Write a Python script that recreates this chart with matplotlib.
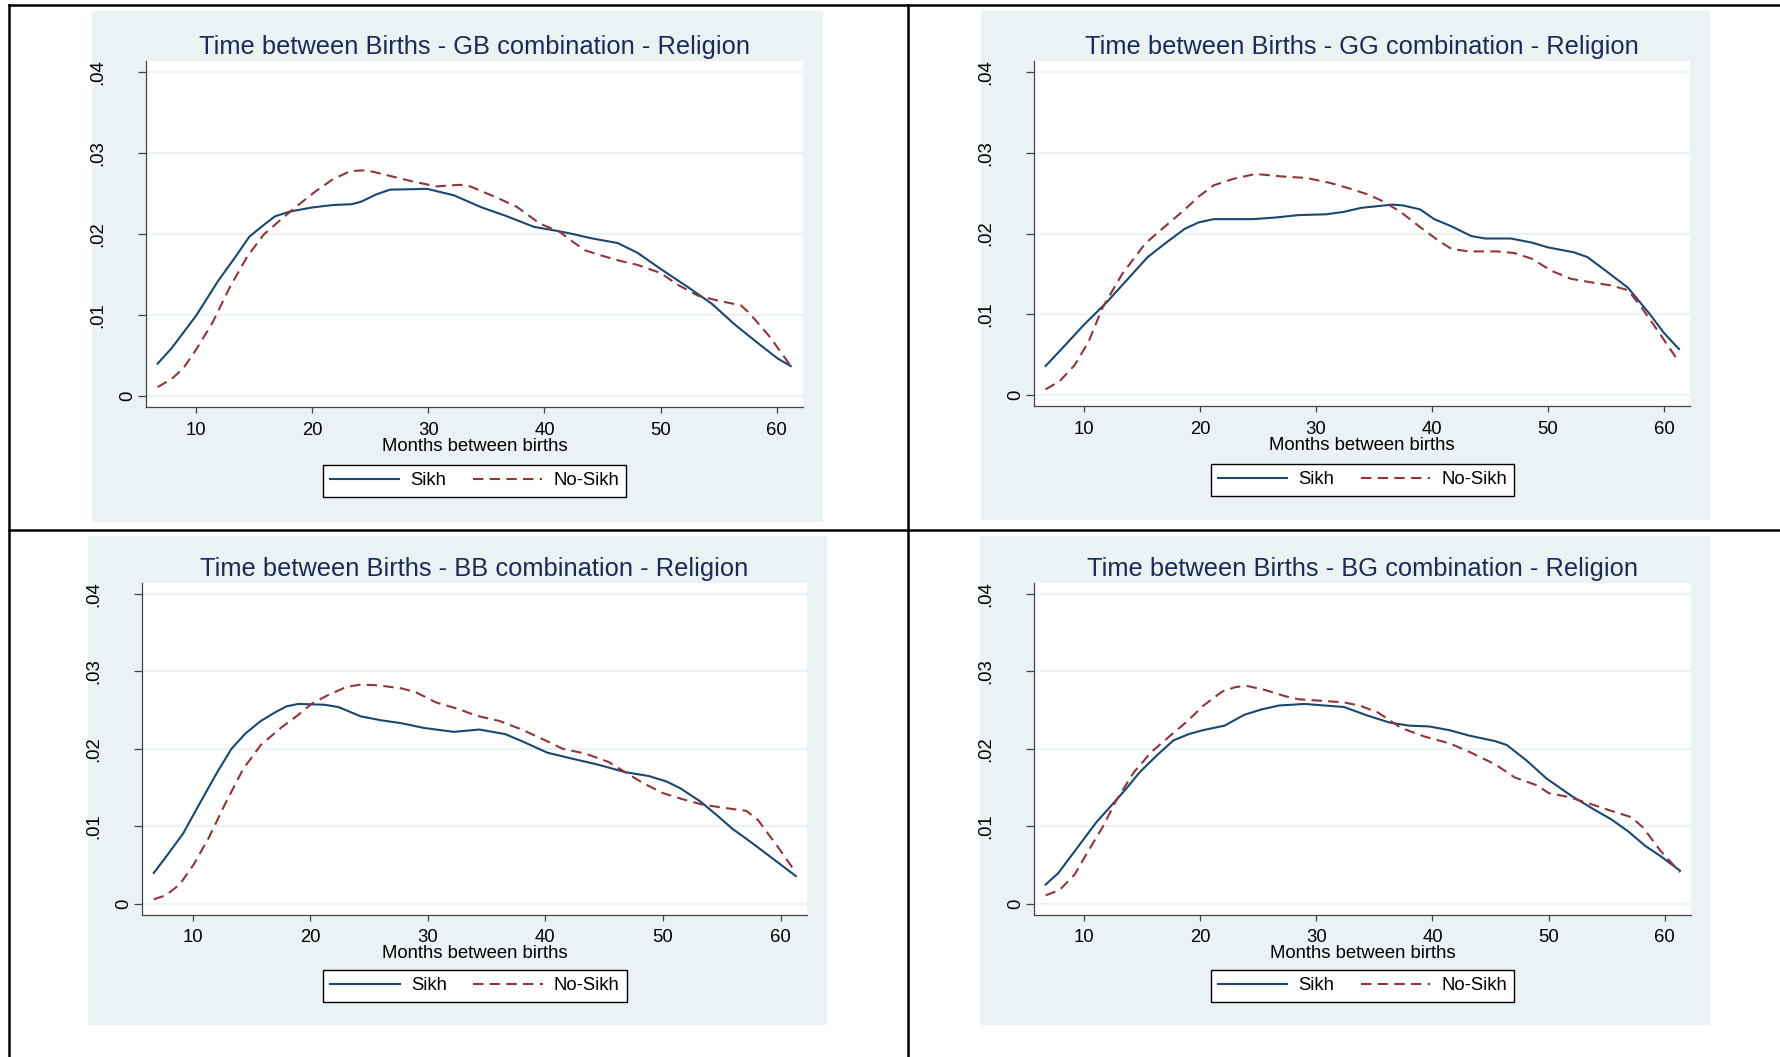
import matplotlib
matplotlib.use("Agg")
import matplotlib.pyplot as plt
from matplotlib.lines import Line2D
from matplotlib.patches import Rectangle

plt.rcParams['font.family'] = ['Liberation Sans', 'DejaVu Sans']

# curve values (months, density)
gb_sikh_x = [6.7, 7.9, 10.0, 11.9, 13.4, 14.6, 15.8, 16.8, 18.1, 20.0, 21.8, 23.4, 24.2, 25.5, 26.7,
             29.9, 32.2, 34.6, 36.6, 39.1, 41.1, 42.5, 44.0, 46.3, 48.0, 50.0, 52.4, 54.4, 56.4, 58.4,
             60.1, 61.2]
gb_sikh_y = [.0040, .0059, .0099, .0142, .0172, .0197, .0211, .0222, .0228, .0233, .0236, .0237, .0240,
             .0249, .0255, .0256, .0248, .0233, .0223, .0209, .0204, .0200, .0195, .0189, .0177, .0157,
             .0134, .0114, .0088, .0065, .0046, .0037]
gb_nosikh_x = [6.7, 7.9, 8.9, 10.0, 11.4, 12.9, 14.4, 15.8, 17.3, 18.8, 20.3, 21.8, 23.3, 24.7, 26.7,
               28.7, 30.7, 32.7, 33.6, 35.6, 37.6, 39.6, 41.3, 42.3, 43.5, 44.8, 46.5, 48.0, 50.0, 51.4,
               53.2, 54.9, 56.9, 57.6, 59.4, 61.2]
gb_nosikh_y = [.0011, .0021, .0034, .0057, .0090, .0134, .0172, .0199, .0218, .0236, .0253, .0268, .0278,
               .0279, .0272, .0265, .0259, .0261, .0259, .0247, .0234, .0213, .0203, .0192, .0180, .0174,
               .0167, .0162, .0152, .0138, .0124, .0118, .0112, .0103, .0073, .0037]

gg_sikh_x = [6.7, 8.4, 10.0, 11.9, 13.8, 15.5, 17.2, 18.7, 19.9, 21.2, 24.6, 26.5, 28.5, 30.9, 32.4,
             33.9, 36.6, 37.5, 39.0, 40.2, 41.7, 43.4, 44.6, 46.8, 48.6, 50.0, 52.2, 53.4, 54.9, 56.9,
             58.8, 60.0, 61.3]
gg_sikh_y = [.0036, .0062, .0087, .0114, .0144, .0171, .0190, .0206, .0214, .0218, .0218, .0220, .0223,
             .0224, .0227, .0232, .0236, .0235, .0230, .0218, .0209, .0197, .0194, .0194, .0189, .0183,
             .0177, .0171, .0155, .0133, .0100, .0077, .0057]
gg_nosikh_x = [6.7, 7.9, 9.2, 10.4, 11.6, 13.3, 15.3, 17.0, 18.7, 19.9, 21.2, 22.9, 24.8, 27.0, 29.2,
               31.2, 32.9, 34.6, 35.8, 37.3, 39.0, 40.5, 41.7, 43.2, 45.6, 47.1, 48.6, 50.3, 52.0, 54.0,
               55.4, 56.9, 58.1, 59.6, 61.2]
gg_nosikh_y = [.0007, .0017, .0037, .0066, .0108, .0150, .0188, .0209, .0230, .0246, .0260, .0268, .0274,
               .0271, .0269, .0263, .0256, .0248, .0240, .0227, .0208, .0192, .0181, .0178, .0178, .0176,
               .0169, .0154, .0144, .0139, .0136, .0130, .0108, .0077, .0043]

bb_sikh_x = [6.7, 7.9, 9.2, 10.4, 12.1, 13.3, 14.5, 15.8, 17.0, 18.0, 19.0, 21.2, 22.4, 24.3, 26.0,
             27.8, 29.7, 32.2, 34.4, 36.6, 38.0, 40.2, 42.4, 44.4, 46.8, 48.8, 50.3, 51.5, 53.2, 54.7,
             55.9, 57.1, 58.6, 61.3]
bb_sikh_y = [.0040, .0064, .0091, .0124, .0170, .0200, .0220, .0236, .0247, .0255, .0258, .0257, .0254,
             .0242, .0237, .0233, .0227, .0222, .0225, .0219, .0210, .0195, .0187, .0180, .0170, .0165,
             .0158, .0149, .0132, .0113, .0097, .0084, .0067, .0036]
bb_nosikh_x = [6.7, 7.7, 8.9, 10.1, 11.4, 12.8, 14.3, 15.8, 17.5, 19.0, 20.2, 21.6, 23.1, 24.3, 25.8,
               27.8, 29.0, 30.7, 32.7, 34.1, 36.1, 38.0, 40.0, 41.5, 43.4, 45.4, 47.1, 48.3, 50.0, 51.7,
               53.4, 55.2, 57.1, 58.1, 59.8, 61.0]
bb_nosikh_y = [.0006, .0011, .0025, .0051, .0086, .0130, .0174, .0205, .0227, .0244, .0259, .0270, .0280,
               .0283, .0282, .0278, .0273, .0260, .0251, .0243, .0236, .0225, .0211, .0200, .0194, .0183,
               .0167, .0156, .0143, .0135, .0128, .0124, .0120, .0108, .0073, .0047]

bg_sikh_x = [6.7, 7.8, 8.9, 10.1, 11.1, 12.3, 13.6, 14.8, 16.3, 17.7, 19.0, 20.2, 22.1, 23.8, 25.3,
             26.8, 29.0, 30.7, 32.4, 34.4, 36.3, 38.0, 39.7, 41.5, 43.2, 45.4, 46.4, 48.1, 49.8, 52.0,
             54.0, 55.4, 56.9, 58.3, 59.6, 61.3]
bg_sikh_y = [.0025, .0040, .0062, .0086, .0106, .0126, .0148, .0170, .0192, .0211, .0219, .0224, .0230,
             .0244, .0251, .0256, .0258, .0256, .0254, .0243, .0234, .0230, .0229, .0224, .0217, .0210,
             .0205, .0185, .0162, .0139, .0121, .0109, .0093, .0075, .0062, .0043]
bg_nosikh_x = [6.7, 7.9, 9.2, 10.4, 11.6, 12.8, 14.3, 15.8, 17.5, 19.0, 20.2, 21.9, 23.1, 24.1, 25.6,
               27.3, 28.5, 30.5, 32.4, 33.9, 35.3, 37.3, 39.3, 41.5, 43.2, 45.4, 47.1, 49.0, 50.0, 51.7,
               53.4, 55.4, 57.1, 58.1, 59.6, 61.3]
bg_nosikh_y = [.0011, .0018, .0038, .0069, .0099, .0134, .0170, .0196, .0218, .0237, .0255, .0274, .0280,
               .0281, .0276, .0268, .0264, .0262, .0260, .0255, .0247, .0227, .0216, .0207, .0196, .0180,
               .0163, .0153, .0143, .0138, .0130, .0120, .0112, .0099, .0069, .0041]

combos = ['GB', 'GG', 'BB', 'BG']
series = {
    'GB': (gb_sikh_x, gb_sikh_y, gb_nosikh_x, gb_nosikh_y),
    'GG': (gg_sikh_x, gg_sikh_y, gg_nosikh_x, gg_nosikh_y),
    'BB': (bb_sikh_x, bb_sikh_y, bb_nosikh_x, bb_nosikh_y),
    'BG': (bg_sikh_x, bg_sikh_y, bg_nosikh_x, bg_nosikh_y),
}
x_ticks = [10, 20, 30, 40, 50, 60]
y_ticks = [0, .01, .02, .03, .04]
y_ticklabels = ['0', '.01', '.02', '.03', '.04']

W, H = 1780, 1057
navy = '#1a476f'
maroon = '#90353b'
bluish = '#eaf2f3'
title_col = '#1c2b55'

# pixel boxes (x0, y0, x1, y1) of the plot regions, graph regions and legend centres
plot_box = {'GB': (146, 61, 803, 407), 'GG': (1034, 61, 1690, 406),
            'BB': (142, 583, 807, 914.5), 'BG': (1034, 583, 1691, 914.5)}
graph_box = {'GB': (92, 11, 823, 522), 'GG': (981, 11, 1710, 520),
             'BB': (88, 536, 827, 1025), 'BG': (980, 536, 1710, 1025)}
legend_c = {'GB': (474.5, 481), 'GG': (1362.5, 480), 'BB': (475, 986), 'BG': (1362.5, 986)}


def frac(x0, y0, x1, y1):
    return [x0 / W, 1 - y1 / H, (x1 - x0) / W, (y1 - y0) / H]


fig = plt.figure(figsize=(W / 100, H / 100), dpi=100)
fig.patch.set_facecolor('white')

for c in combos:
    gx0, gy0, gx1, gy1 = graph_box[c]
    fig.add_artist(Rectangle((gx0 / W, 1 - gy1 / H), (gx1 - gx0) / W, (gy1 - gy0) / H,
                             transform=fig.transFigure, facecolor=bluish, edgecolor='none', zorder=0))

    ax = fig.add_axes(frac(*plot_box[c]))
    ax.set_facecolor('white')
    sx, sy, nx, ny = series[c]
    l1, = ax.plot(sx, sy, color=navy, lw=1.5, label='Sikh')
    l2, = ax.plot(nx, ny, color=maroon, lw=1.5, ls=(0, (5, 3)), label='No-Sikh')

    ax.set_xlim(5.7, 62.25)
    ax.set_ylim(-0.00136, 0.0414)
    ax.set_xticks(x_ticks)
    ax.set_yticks(y_ticks, y_ticklabels)
    ax.grid(axis='y', color=bluish, lw=1.6)
    ax.set_axisbelow(True)
    for s in ['top', 'right']:
        ax.spines[s].set_visible(False)
    for s in ['left', 'bottom']:
        ax.spines[s].set_color('#444444')
        ax.spines[s].set_linewidth(0.9)
    ax.tick_params(axis='x', length=4.5, width=0.9, color='#444444', pad=6.3, labelsize=13.3)
    ax.tick_params(axis='y', length=5.8, width=0.9, color='#444444', pad=23, labelsize=13.3,
                   labelrotation=90)
    for lab in ax.get_yticklabels():
        lab.set_verticalalignment('center')
    ax.yaxis.get_major_ticks()[0].set_pad(1.5)

    ax.set_title(f'Time between Births - {c} combination - Religion', fontsize=18.4,
                 color=title_col, pad=5)
    ax.set_xlabel('Months between births', fontsize=13.3)
    ax.xaxis.set_label_coords(0.5, -44 / (plot_box[c][3] - plot_box[c][1]))
    ax.xaxis.label.set_verticalalignment('baseline')

    lx, ly = legend_c[c]
    fig.legend(handles=[l1, l2], loc='center', bbox_to_anchor=(lx / W, 1 - ly / H), ncol=2,
               fontsize=13.3, handlelength=3.75, handletextpad=0.6, columnspacing=1.45,
               borderpad=0.4, fancybox=False, framealpha=1, edgecolor='black',
               facecolor='white')

# table borders around the panels
border = dict(color='black', lw=1.8, transform=fig.transFigure)
fig.add_artist(Line2D([8.6 / W, 1], [1 - 5 / H, 1 - 5 / H], **border))
fig.add_artist(Line2D([8.6 / W, 1], [1 - 530 / H, 1 - 530 / H], **border))
fig.add_artist(Line2D([8.6 / W, 8.6 / W], [0, 1 - 5 / H], **border))
fig.add_artist(Line2D([908 / W, 908 / W], [0, 1 - 5 / H], **border))

fig.savefig('out.png', dpi=100)
